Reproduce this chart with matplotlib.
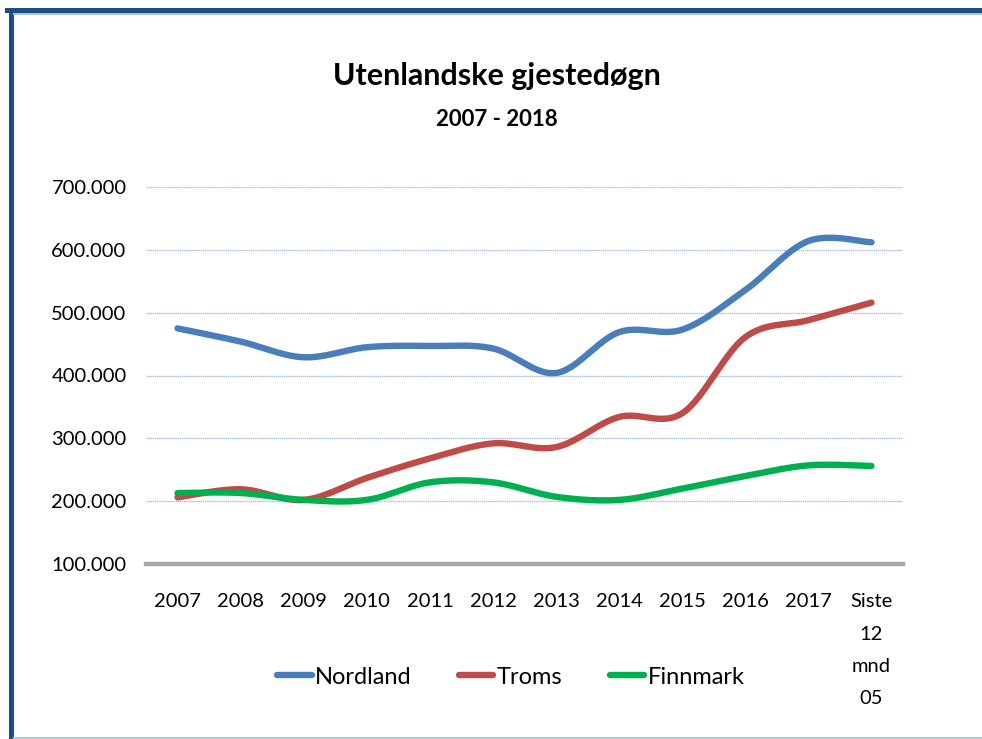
import numpy as np
import matplotlib
matplotlib.use("Agg")
import matplotlib.pyplot as plt
from matplotlib.lines import Line2D
from matplotlib.patches import Rectangle

categories = ["2007", "2008", "2009", "2010", "2011", "2012", "2013",
              "2014", "2015", "2016", "2017", "Siste\n12\nmnd\n05"]
nordland = [475000, 454000, 429000, 445000, 447000, 443000, 404000,
            469000, 473000, 536000, 614000, 612000]
troms = [206000, 219000, 202000, 237000, 268000, 292000, 286000,
         334000, 340000, 461000, 488000, 516000]
finnmark = [213000, 213000, 202000, 202000, 230000, 230000, 207000,
            202000, 220000, 240000, 257000, 256000]
series_names = ["Nordland", "Troms", "Finnmark"]
series_colors = ["#4A7EBB", "#BE4B48", "#00B050"]
y_ticks = [100000, 200000, 300000, 400000, 500000, 600000, 700000]

FONT = ["Lato", "DejaVu Sans"]


def smooth(x, y, n=30):
    """Catmull-Rom style smoothed line through the points."""
    x = np.asarray(x, float)
    y = np.asarray(y, float)
    px = np.concatenate([[x[0]], x, [x[-1]]])
    py = np.concatenate([[y[0]], y, [y[-1]]])
    xs, ys = [], []
    for i in range(1, len(px) - 2):
        p0, p1, p2, p3 = (np.array([px[j], py[j]]) for j in (i - 1, i, i + 1, i + 2))
        c1 = p1 + (p2 - p0) / 6.0
        c2 = p2 - (p3 - p1) / 6.0
        t = np.linspace(0, 1, n)[:, None]
        b = ((1 - t) ** 3) * p1 + 3 * ((1 - t) ** 2) * t * c1 + 3 * (1 - t) * t ** 2 * c2 + t ** 3 * p2
        xs.append(b[:, 0])
        ys.append(b[:, 1])
    return np.concatenate(xs), np.concatenate(ys)


W, H = 982, 739
fig = plt.figure(figsize=(W / 100, H / 100), dpi=100)
fig.patch.set_facecolor("white")

# frame around the chart
fig.add_artist(Rectangle((5 / W, 1 - 13 / H), 1, 5 / H, transform=fig.transFigure,
                         color="#1F4E87", lw=0))
fig.add_artist(Rectangle((9 / W, 0), 4.5 / W, 1 - 9 / H, transform=fig.transFigure,
                         color="#1F4E87", lw=0))
fig.add_artist(Rectangle((13 / W, 1 - 14.5 / H), 1, 1.5 / H, transform=fig.transFigure,
                         color="#A9C2E0", lw=0))
fig.add_artist(Rectangle((13 / W, 0.5 / H), 1, 2 / H, transform=fig.transFigure,
                         color="#B4C4DE", lw=0))

left, right, top, bottom = 146, 903, 187, 564
ax = fig.add_axes([left / W, 1 - bottom / H, (right - left) / W, (bottom - top) / H])
ax.set_facecolor("none")

x = np.arange(len(categories))
for vals, name, col in zip([nordland, troms, finnmark], series_names, series_colors):
    sx, sy = smooth(x, vals)
    ax.plot(sx, sy, color=col, lw=4.6, solid_capstyle="round", label=name, zorder=3)

ax.set_xlim(-0.5, len(categories) - 0.5)
ax.set_ylim(100000, 700000)
ax.set_yticks(y_ticks)
ax.set_yticklabels([f"{v:,}".replace(",", ".") for v in y_ticks],
                   fontsize=14.5, family=FONT)
ax.set_xticks(x)
ax.set_xticklabels(categories, fontsize=14.5, family=FONT, linespacing=2.1,
                   va="top")
ax.tick_params(axis="both", length=0)
ax.tick_params(axis="x", pad=21)
ax.tick_params(axis="y", pad=14)

for v in y_ticks[1:]:
    ax.axhline(v, color="#A9C0E0", lw=1.0, linestyle=(0, (1, 0.5)), zorder=1)
for s in ["top", "right", "left"]:
    ax.spines[s].set_visible(False)
ax.spines["bottom"].set_color("#A6A6A6")
ax.spines["bottom"].set_linewidth(3.2)

fig.text(497 / W, 1 - 76 / H, "Utenlandske gjestedøgn", ha="center", va="center",
         fontsize=22, fontweight="bold", family=FONT)
fig.text(497 / W, 1 - 120 / H, "2007 - 2018", ha="center", va="center",
         fontsize=16, fontweight="bold", family=FONT)

handles = [Line2D([0], [0], color=c, lw=4.6, solid_capstyle="round") for c in series_colors]
fig.legend(handles, series_names, loc="center", bbox_to_anchor=(511 / W, 1 - 677 / H),
           ncol=3, frameon=False, prop={"family": FONT, "size": 17},
           handlelength=1.45, handletextpad=0.15, columnspacing=2.0)

fig.savefig("out.png", dpi=100, facecolor="white")
